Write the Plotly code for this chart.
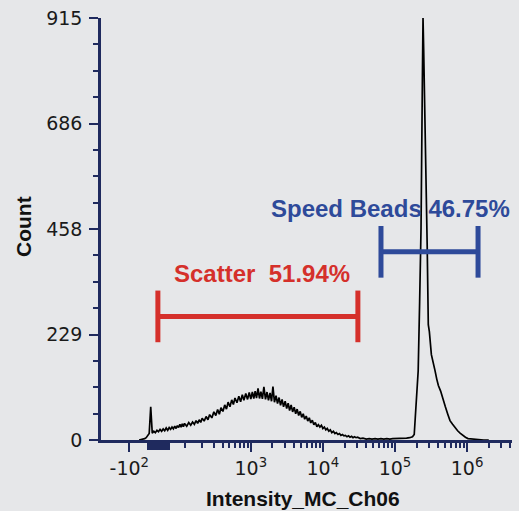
import numpy as np
import plotly.graph_objects as go

# ---------------- data ----------------
intensity = [
    -60, -50, -40, -35, -30, -25, -20, -15, -10, -5, 0, 5, 10, 15, 20, 25,
    30, 35, 40, 45, 50, 55, 60, 65, 70, 75, 80, 85, 90, 95, 100,
    110, 120, 130, 140, 150, 160, 170, 180, 190, 200, 215, 230, 245, 260,
    280, 300, 320, 340, 360, 380, 405, 430, 455, 480, 510, 540, 570, 600,
    640, 680, 720, 760, 800, 850, 900, 950, 1000,
    1050, 1100, 1150, 1200, 1260, 1320, 1380, 1450, 1520, 1600, 1680, 1760,
    1850, 1940, 2030, 2130, 2240, 2350, 2470, 2590, 2720, 2850, 3000, 3150,
    3300, 3460, 3630, 3810, 4000, 4200, 4400, 4620, 4850, 5090, 5340, 5600,
    5880, 6170, 6480, 6800, 7140, 7500, 7870, 8260, 8670, 9100, 9550, 10000,
    10500, 11000, 11500, 12100, 12700, 13300, 14000, 14700, 15400, 16200,
    17000, 17800, 18700, 19600, 20600, 21600, 22700, 23800, 25000, 26200,
    27500, 28900, 30300,
    33000, 36000, 40000, 44000, 48000, 53000, 58000, 64000, 70000, 77000,
    85000, 93000, 100000, 115000, 130000, 145000, 160000, 175000, 185000,
    190000, 200000, 210000, 220000, 230000, 240000, 245000, 250000, 260000,
    270000, 280000, 290000, 300000, 320000, 340000, 360000, 380000, 400000,
    430000, 460000, 500000, 540000, 580000, 630000, 680000, 740000, 800000,
    870000, 950000, 1030000, 1150000, 1300000, 1500000, 1700000, 2000000,
]
count = [
    0, 1, 3, 5, 9, 14, 72, 15, 19, 16, 21, 18, 23, 19, 24, 20,
    26, 21, 27, 23, 28, 24, 30, 25, 31, 27, 34, 28, 35, 29, 36,
    30, 38, 32, 39, 34, 42, 36, 44, 38, 47, 41, 51, 44, 55,
    48, 61, 53, 66, 56, 70, 62, 76, 67, 82, 72, 87, 77, 91,
    81, 95, 83, 98, 86, 101, 88, 103, 89,
    104, 90, 106, 91, 112, 90, 105, 89, 115, 88, 104, 86,
    102, 84, 116, 82, 96, 79, 92, 75, 88, 72, 84, 68,
    80, 64, 76, 61, 71, 57, 67, 53, 62, 49, 57, 45,
    52, 41, 48, 37, 43, 33, 38, 29, 33, 28, 32, 25,
    28, 22, 25, 19, 22, 16, 19, 14, 16, 12,
    14, 10, 12, 9, 10, 7, 9, 6, 8, 5,
    7, 5, 6,
    3, 4, 2, 3, 2, 3, 2, 3, 2, 3,
    2, 3, 3, 3, 4, 4, 5, 7, 12,
    45, 110, 150, 300, 460, 780, 915, 850, 720,
    560, 420, 250, 235, 185, 170, 150, 132, 118,
    106, 93, 72, 56, 42, 34, 27, 20, 15,
    10, 6, 3, 2, 1, 1, 0, 0,
]

x_tick_values = [-100, 1e3, 1e4, 1e5, 1e6]
x_tick_labels = ["-10<sup>2</sup>", "10<sup>3</sup>", "10<sup>4</sup>",
                 "10<sup>5</sup>", "10<sup>6</sup>"]
y_tick_values = [0, 228.75, 457.5, 686.25, 915]
y_tick_labels = ["0", "229", "458", "686", "915"]

gate_names = ["Scatter&nbsp; 51.94%", "Speed Beads 46.75%"]
gate_low = [3, 64000]
gate_high = [30600, 1420000]
gate_level = [268, 408]

# ---------------- scale ----------------
W = 100.0


def tr(v):
    return np.arcsinh(np.asarray(v, dtype=float) / W)


x_range = [float(tr(-290)), float(tr(4.2e6))]

NAVY = "#1f2a5e"
RED = "#d5302b"
BLUE = "#2e4a9a"
BG = "#e6e7e9"

zero_block = list(range(-30, 45, 5))
minor_vals = [100]
for dec in [100, 1000, 10000, 100000]:
    minor_vals += [k * dec for k in range(2, 10)]
minor_vals += [2e6, 3e6, 4e6]

fig = go.Figure()
fig.add_trace(go.Scatter(
    x=tr(intensity), y=count, mode="lines",
    line=dict(color="black", width=1.7), showlegend=False, hoverinfo="skip",
))
# carrier for the overlay axis that draws the dense near-zero ticks
fig.add_trace(go.Scatter(
    x=[x_range[0]], y=[0], xaxis="x2", mode="markers",
    marker=dict(opacity=0, size=1), showlegend=False, hoverinfo="skip",
))

shapes = []
colors = [RED, BLUE]
for lo, hi, lev, c in zip(gate_low, gate_high, gate_level, colors):
    xl, xh = float(tr(lo)), float(tr(hi))
    shapes.append(dict(type="line", xref="x", yref="y", x0=xl, x1=xh, y0=lev, y1=lev,
                       line=dict(color=c, width=5)))
    for xx in (xl, xh):
        shapes.append(dict(type="line", xref="x", yref="y", x0=xx, x1=xx,
                           y0=lev - 56, y1=lev + 56, line=dict(color=c, width=5)))

annotations = [
    dict(text="<b>" + gate_names[0] + "</b>", xref="x", yref="y",
         x=float(tr(1409)), y=361, showarrow=False, xanchor="center", yanchor="middle",
         font=dict(family="Liberation Sans", size=24, color=RED)),
    dict(text="<b>" + gate_names[1] + "</b>", xref="paper", yref="y",
         x=1.0, y=503, showarrow=False, xanchor="right", yanchor="middle",
         font=dict(family="Liberation Sans", size=24, color=BLUE)),
    dict(text="<b>Count</b>", xref="paper", yref="paper", x=-0.19, y=0.507,
         textangle=-90, showarrow=False, xanchor="center", yanchor="middle",
         font=dict(family="Liberation Sans", size=21, color="#111111")),
    dict(text="<b>Intensity_MC_Ch06</b>", xref="paper", yref="paper", x=0.491, y=-0.1385,
         showarrow=False, xanchor="center", yanchor="middle",
         font=dict(family="Liberation Sans", size=21, color="#111111")),
]

fig.update_layout(
    width=519, height=511,
    margin=dict(l=101, r=7, t=14, b=71),
    paper_bgcolor=BG, plot_bgcolor=BG,
    shapes=shapes, annotations=annotations,
    xaxis=dict(
        range=x_range, tickmode="array", tickvals=list(tr(x_tick_values)),
        ticktext=x_tick_labels,
        ticks="outside", ticklen=9, tickwidth=2, tickcolor=NAVY,
        showline=True, linecolor=NAVY, linewidth=2.5,
        showgrid=False, zeroline=False,
        tickfont=dict(family="DejaVu Sans", size=19, color="#1a1a1a"),
        minor=dict(tickmode="array", tickvals=list(tr(minor_vals)), ticks="outside",
                   ticklen=5, tickwidth=2, tickcolor=NAVY, showgrid=False),
    ),
    xaxis2=dict(
        overlaying="x", anchor="y", side="bottom", range=x_range,
        tickmode="array", tickvals=list(tr(zero_block)),
        ticks="outside", ticklen=9, tickwidth=2, tickcolor=NAVY,
        showticklabels=False, showline=False, showgrid=False, zeroline=False,
    ),
    yaxis=dict(
        range=[0, 915], tickmode="array", tickvals=y_tick_values, ticktext=y_tick_labels,
        ticks="outside", ticklen=9, tickwidth=2, tickcolor=NAVY,
        showline=True, linecolor=NAVY, linewidth=2.5,
        showgrid=False, zeroline=False, ticklabelstandoff=3,
        tickfont=dict(family="DejaVu Sans", size=19, color="#1a1a1a"),
        minor=dict(tick0=0, dtick=57.1875, ticks="outside", ticklen=5, tickwidth=2,
                   tickcolor=NAVY, showgrid=False),
    ),
)

fig.write_html("out.html", config={"displayModeBar": False},
               post_script="document.body.style.margin='0';")
